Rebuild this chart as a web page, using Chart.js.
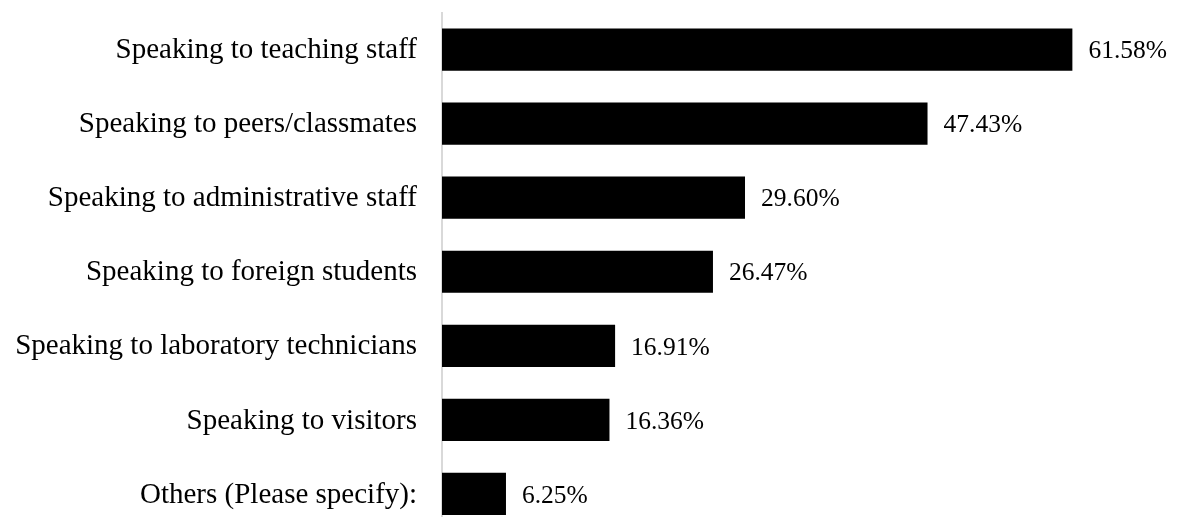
<!DOCTYPE html>
<html>
<head>
<meta charset="utf-8">
<script src="https://cdn.jsdelivr.net/npm/chart.js@4/dist/chart.umd.min.js"></script>
<style>
  html, body { margin: 0; padding: 0; overflow: hidden; background: #fff; }
  #wrap { width: 1177px; height: 531px; }
</style>
</head>
<body>
<div id="wrap"><canvas id="myChart"></canvas></div>
<script>
var categorias = [
    'Speaking to teaching staff',
    'Speaking to peers/classmates',
    'Speaking to administrative staff',
    'Speaking to foreign students',
    'Speaking to laboratory technicians',
    'Speaking to visitors',
    'Others (Please specify):'
];
var porcentajes = [61.58, 47.43, 29.60, 26.47, 16.91, 16.36, 6.25];

// etiqueta con el valor al final de cada barra
var etiquetasValor = {
    id: 'etiquetasValor',
    afterDatasetsDraw: function(chart) {
        var ctx = chart.ctx;
        var meta = chart.getDatasetMeta(0);
        ctx.save();
        ctx.font = '25.5px "Liberation Serif"';
        ctx.fillStyle = '#000';
        ctx.textBaseline = 'middle';
        ctx.textAlign = 'left';
        meta.data.forEach(function(bar, i) {
            ctx.fillText(porcentajes[i].toFixed(2) + '%', bar.x + 16, bar.y + 2);
        });
        ctx.restore();
    }
};

const ctx = document.getElementById('myChart');

new Chart(ctx, {
    type: 'bar',
    data: {
        labels: categorias,
        datasets: [{
            data: porcentajes,
            backgroundColor: '#000',
            borderWidth: 0,
            categoryPercentage: 1,
            barPercentage: 0.57
        }]
    },
    options: {
        indexAxis: 'y',
        responsive: true,
        maintainAspectRatio: false,
        animation: false,
        layout: { padding: { top: 12.5, right: 0, bottom: 0, left: 0 } },
        plugins: {
            legend: { display: false },
            tooltip: { enabled: false }
        },
        scales: {
            x: {
                display: false,
                min: 0,
                max: 71.8
            },
            y: {
                grid: { display: false },
                border: { display: true, color: '#d9d9d9', width: 2 },
                ticks: {
                    color: '#000',
                    padding: 17,
                    labelOffset: 1,
                    font: { family: '"Liberation Serif"', size: 29 }
                },
                afterFit: function(scale) {
                    scale.width = 442;
                    scale.paddingTop = 0;
                    scale.paddingBottom = 0;
                }
            }
        }
    },
    plugins: [etiquetasValor]
});
</script>
</body>
</html>
